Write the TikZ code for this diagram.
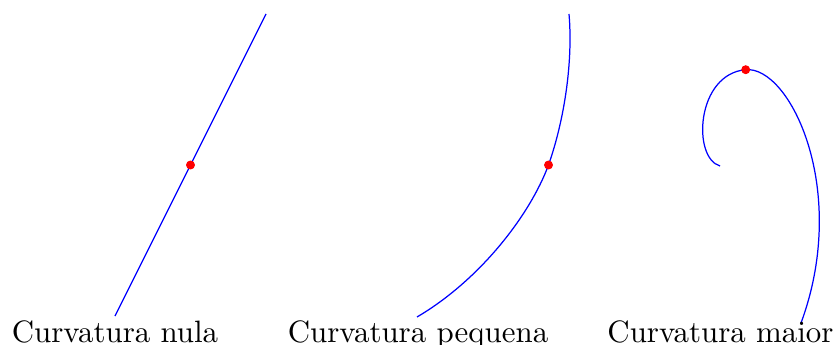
\documentclass[tikz,border=0pt]{standalone}
\begin{document}
\begin{tikzpicture}[x=0.3235pt,y=-0.3235pt,
  curve/.style={blue, line width=0.4pt},
  pt/.style={circle, fill=red, inner sep=0pt, minimum size=2.9pt},
  lbl/.style={anchor=base, inner sep=0pt}]
\useasboundingbox (0,0) rectangle (834,345);
% panel 1
\coordinate (a1) at (115,316);
\coordinate (a2) at (266,14);
\draw[curve] (a1) -- (a2);
\node[pt] (p1) at (190.5,165) {};
\node[lbl] (l1) at (115,342) {Curvatura nula};
% panel 2
\coordinate (b1) at (417,317);
\coordinate (b2) at (548.5,165);
\coordinate (b3) at (569,14);
\draw[curve] (b1) .. controls (480,280) and (530,215) .. (b2)
                  .. controls (565,118) and (573,60) .. (b3);
\node[pt] (p2) at (b2) {};
\node[lbl] (l2) at (418,342) {Curvatura pequena};
% panel 3
\coordinate (c1) at (720,166);
\coordinate (c2) at (745.7,69.7);
\coordinate (c3) at (801,323);
\draw[curve] (c1) .. controls (692,158) and (696,74) .. (c2)
                  .. controls (790,65.8) and (850,190) .. (c3);
\node[pt] (p3) at (c2) {};
\node[lbl] (l3) at (720.5,342) {Curvatura maior};
\end{tikzpicture}
\end{document}
